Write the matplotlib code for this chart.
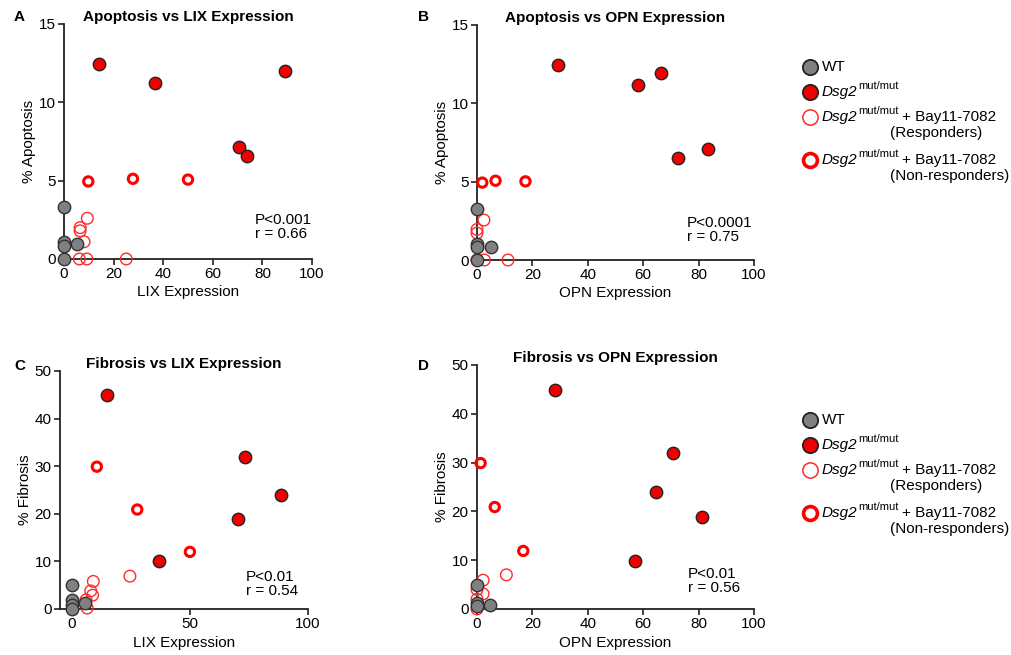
import matplotlib
matplotlib.use("Agg")
import matplotlib.pyplot as plt
from matplotlib.lines import Line2D

plt.rcParams['font.family'] = ['Liberation Sans', 'DejaVu Sans']

# --- data: panel A (LIX vs apoptosis)
wt_lix_a = [0, 0, 0, 5.1, 0]
wt_apo_a = [3.3, 1.1, 0.8, 0.95, 0]
dsg_lix_a = [14.2, 36.7, 89, 70.5, 73.6]
dsg_apo_a = [12.47, 11.24, 12.0, 7.12, 6.55]
resp_lix_a = [9.4, 6.5, 6.5, 8.1, 6.2, 9.2, 25.1]
resp_apo_a = [2.6, 2.0, 1.8, 1.1, 0, 0, 0]
non_lix_a = [9.8, 27.8, 50]
non_apo_a = [4.95, 5.12, 5.07]

# panel B (OPN vs apoptosis)
wt_opn_b = [0, 0, 0, 5.2, 0]
wt_apo_b = [3.24, 1.05, 0.8, 0.85, 0]
dsg_opn_b = [29.3, 58.3, 66.6, 72.4, 83.5]
dsg_apo_b = [12.45, 11.17, 11.96, 6.51, 7.11]
resp_opn_b = [2.5, 0, 0, 0, 2.7, 11.2]
resp_apo_b = [2.55, 1.95, 1.72, 0, 0, 0]
non_opn_b = [1.9, 6.7, 17.5]
non_apo_b = [4.94, 5.06, 5.02]

# panel C (LIX vs fibrosis)
wt_lix_c = [0, 0, 0, 0, 5.6]
wt_fib_c = [5.0, 1.9, 0.8, 0, 1.2]
dsg_lix_c = [14.8, 73.2, 88.7, 70.4, 37.0]
dsg_fib_c = [44.9, 32.0, 23.9, 18.9, 10.0]
resp_lix_c = [24.6, 9.1, 8.0, 8.8, 6.0, 6.5]
resp_fib_c = [6.9, 5.8, 3.8, 2.9, 1.9, 0.2]
non_lix_c = [10.6, 27.7, 50]
non_fib_c = [29.9, 20.9, 12.0]

# panel D (OPN vs fibrosis)
wt_opn_d = [0, 0, 0, 4.6]
wt_fib_d = [5.0, 1.2, 0.6, 0.9]
dsg_opn_d = [28.2, 70.7, 64.7, 81.4, 57.1]
dsg_fib_d = [44.9, 31.9, 23.9, 18.9, 9.9]
resp_opn_d = [10.6, 2.2, 0, 2.2, 0, 0]
resp_fib_d = [7.0, 5.9, 4.0, 3.1, 2.0, 0]
non_opn_d = [1.3, 6.4, 16.7]
non_fib_d = [29.9, 20.9, 11.9]

W, H = 1011, 655
fig = plt.figure(figsize=(W / 100, H / 100), dpi=100)

def box(left, right, top, bottom):
    return [left / W, 1 - bottom / H, (right - left) / W, (bottom - top) / H]

RED = '#f00000'
GRAY = '#808080'
EDGE = '#222222'

def panel(rect, wt, dsg, resp, non, xlim, xticks, ylim, yticks,
          title, xlabel, ylabel, stat, stat_pos):
    ax = fig.add_axes(rect)
    ax.scatter(*resp, s=70, facecolors='none', edgecolors='#ff2a2a', linewidths=1.0, clip_on=False, zorder=3)
    ax.scatter(*wt, s=80, c=GRAY, edgecolors='#333333', linewidths=1.0, clip_on=False, zorder=4)
    ax.scatter(*dsg, s=80, c=RED, edgecolors=EDGE, linewidths=1.0, clip_on=False, zorder=4)
    ax.scatter(*non, s=45, facecolors='none', edgecolors='#ff0000', linewidths=2.2, clip_on=False, zorder=4)
    ax.set_xlim(xlim)
    ax.set_ylim(ylim)
    ax.set_xticks(xticks)
    ax.set_yticks(yticks)
    for s in ['top', 'right']:
        ax.spines[s].set_visible(False)
    for s in ['left', 'bottom']:
        ax.spines[s].set_linewidth(1.3)
        ax.spines[s].set_color('#222222')
    ax.tick_params(direction='out', length=4, width=1.2, labelsize=11, color='#222222', pad=2)
    ax.set_xlabel(xlabel, fontsize=11, labelpad=3)
    ax.set_ylabel(ylabel, fontsize=11, labelpad=2)
    ax.set_title(title, fontsize=11, fontweight='bold', pad=1)
    ax.text(stat_pos[0], stat_pos[1], stat, transform=ax.transAxes, fontsize=11,
            va='center', ha='left', linespacing=1.0)
    return ax

panel(box(64, 312, 24, 259), (wt_lix_a, wt_apo_a), (dsg_lix_a, dsg_apo_a),
      (resp_lix_a, resp_apo_a), (non_lix_a, non_apo_a),
      (0, 100), [0, 20, 40, 60, 80, 100], (0, 15), [0, 5, 10, 15],
      'Apoptosis vs LIX Expression', 'LIX Expression', '% Apoptosis',
      'P<0.001\nr = 0.66', (0.77, 0.135))

panel(box(477, 754, 25, 260), (wt_opn_b, wt_apo_b), (dsg_opn_b, dsg_apo_b),
      (resp_opn_b, resp_apo_b), (non_opn_b, non_apo_b),
      (0, 100), [0, 20, 40, 60, 80, 100], (0, 15), [0, 5, 10, 15],
      'Apoptosis vs OPN Expression', 'OPN Expression', '% Apoptosis',
      'P<0.0001\nr = 0.75', (0.757, 0.128))

panel(box(60, 308, 371, 609), (wt_lix_c, wt_fib_c), (dsg_lix_c, dsg_fib_c),
      (resp_lix_c, resp_fib_c), (non_lix_c, non_fib_c),
      (-5, 100), [0, 50, 100], (0, 50), [0, 10, 20, 30, 40, 50],
      'Fibrosis vs LIX Expression', 'LIX Expression', '% Fibrosis',
      'P<0.01\nr = 0.54', (0.75, 0.105))

panel(box(477, 754, 365, 609), (wt_opn_d, wt_fib_d), (dsg_opn_d, dsg_fib_d),
      (resp_opn_d, resp_fib_d), (non_opn_d, non_fib_d),
      (0, 100), [0, 20, 40, 60, 80, 100], (0, 50), [0, 10, 20, 30, 40, 50],
      'Fibrosis vs OPN Expression', 'OPN Expression', '% Fibrosis',
      'P<0.01\nr = 0.56', (0.76, 0.114))

# panel letters
for lab, (px, py) in zip('ABCD', [(14, 17), (418, 17), (14, 366), (418, 366)]):
    fig.text(px / W, 1 - py / H, lab, fontsize=11, fontweight='bold', va='center', ha='left')

# legends (drawn on an overlay axes in pixel units)
leg = fig.add_axes([0, 0, 1, 1])
leg.set_xlim(0, W)
leg.set_ylim(H, 0)
leg.axis('off')
renderer = fig.canvas.get_renderer()

def dsg_label(x, y, tail=''):
    t = leg.text(x, y, 'Dsg2', fontsize=11, style='italic', va='center', ha='left')
    w = t.get_window_extent(renderer).width
    s = leg.text(x + w + 0.5, y - 6, 'mut/mut', fontsize=8, va='center', ha='left')
    ws = s.get_window_extent(renderer).width
    if tail:
        leg.text(x + w + ws + 4, y, tail, fontsize=11, va='center', ha='left')

for y0 in [67, 420]:
    leg.add_line(Line2D([810], [y0], marker='o', ms=11, mfc=GRAY, mec=EDGE, mew=1.3))
    leg.text(822, y0, 'WT', fontsize=11, va='center', ha='left')
    leg.add_line(Line2D([810], [y0 + 24.5], marker='o', ms=11, mfc=RED, mec=EDGE, mew=1.3))
    dsg_label(822, y0 + 25)
    leg.add_line(Line2D([810], [y0 + 49.5], marker='o', ms=11, mfc='none', mec='#ff2a2a', mew=1.1))
    dsg_label(822, y0 + 50, '+ Bay11-7082')
    leg.text(890, y0 + 66, '(Responders)', fontsize=11, va='center', ha='left')
    leg.add_line(Line2D([810], [y0 + 93], marker='o', ms=10, mfc='none', mec='#ff0000', mew=2.6))
    dsg_label(822, y0 + 93, '+ Bay11-7082')
    leg.text(890, y0 + 109, '(Non-responders)', fontsize=11, va='center', ha='left')

fig.savefig('out.png', dpi=100)
